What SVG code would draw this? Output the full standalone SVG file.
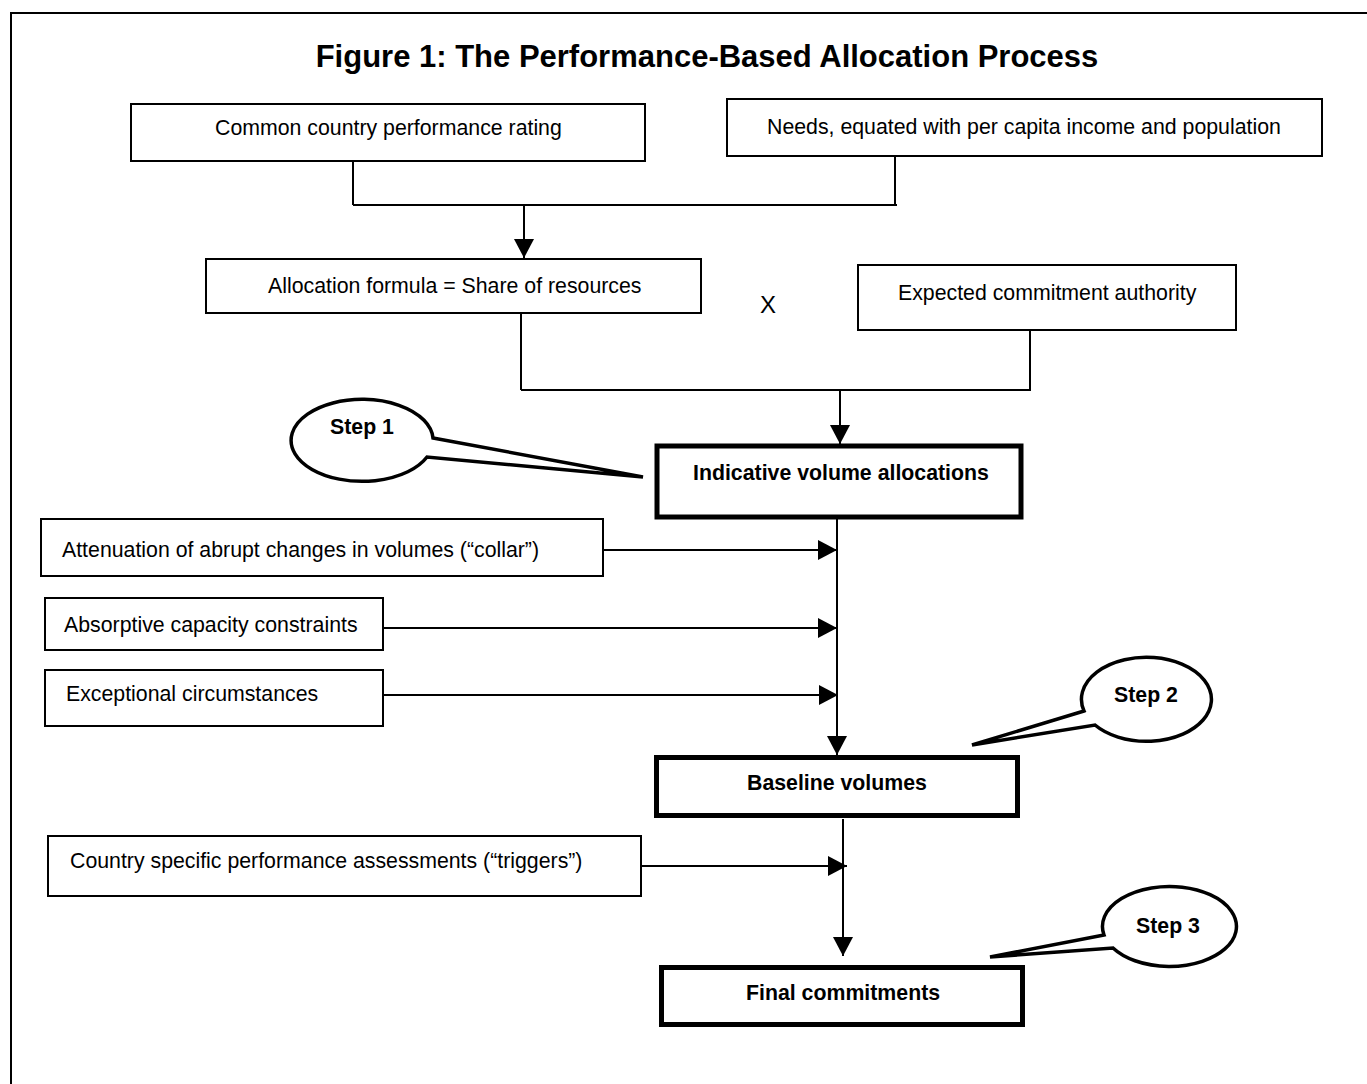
<svg xmlns="http://www.w3.org/2000/svg" width="1367" height="1084" viewBox="0 0 1367 1084">
<defs>
<style>
.box{fill:#fff;stroke:#000;stroke-width:2}
.thick{fill:#fff;stroke:#000;stroke-width:5}
.t{font-family:"Liberation Sans",Arial,sans-serif;font-size:21.3px;fill:#000}
.b{font-weight:bold}
.ln{fill:none;stroke:#000;stroke-width:2}
.call{fill:#fff;stroke:#000;stroke-width:3.5;stroke-linejoin:miter}
</style>
<marker id="ah" viewBox="0 0 19 20" refX="19" refY="10" markerWidth="19" markerHeight="20" markerUnits="userSpaceOnUse" orient="auto">
<path d="M0,0 L19,10 L0,20 Z" fill="#000"/>
</marker>
</defs>
<rect x="0" y="0" width="1367" height="1084" fill="#fff"/>
<rect id="frame" x="11" y="13" width="1380" height="1100" fill="none" stroke="#000" stroke-width="2"/>
<text id="title" class="t b" x="707" y="67" text-anchor="middle" style="font-size:31px">Figure 1: The Performance-Based Allocation Process</text>

<g id="connectors">
<path class="ln" d="M353,161 V205 M895,156 V205 M353,205 H897"/>
<path class="ln" d="M524,205 V258" marker-end="url(#ah)"/>
<path class="ln" d="M521,313 V390 M1030,330 V390 M521,390 H1031"/>
<path class="ln" d="M840,390 V444" marker-end="url(#ah)"/>
<path class="ln" d="M837,519 V755" marker-end="url(#ah)"/>
<path class="ln" d="M603,550 H837" marker-end="url(#ah)"/>
<path class="ln" d="M383,628 H837" marker-end="url(#ah)"/>
<path class="ln" d="M383,695 H838" marker-end="url(#ah)"/>
<path class="ln" d="M843,819 V956" marker-end="url(#ah)"/>
<path class="ln" d="M641,866 H847" marker-end="url(#ah)"/>
</g>

<g id="n-common"><rect class="box" x="131" y="104" width="514" height="57"/><text class="t" x="215" y="135">Common country performance rating</text></g>
<g id="n-needs"><rect class="box" x="727" y="99" width="595" height="57"/><text class="t" x="767" y="134">Needs, equated with per capita income and population</text></g>
<g id="n-alloc"><rect class="box" x="206" y="259" width="495" height="54"/><text class="t" x="268" y="293">Allocation formula = Share of resources</text></g>
<g id="n-x"><text class="t" x="768" y="313" text-anchor="middle" style="font-size:24px">X</text></g>
<g id="n-expected"><rect class="box" x="858" y="265" width="378" height="65"/><text class="t" x="898" y="300">Expected commitment authority</text></g>
<g id="n-indicative"><rect class="thick" x="657" y="446" width="364" height="71"/><text class="t b" x="693" y="480">Indicative volume allocations</text></g>
<g id="n-attenuation"><rect class="box" x="41" y="519" width="562" height="57"/><text class="t" x="62" y="557">Attenuation of abrupt changes in volumes (“collar”)</text></g>
<g id="n-absorptive"><rect class="box" x="45" y="598" width="338" height="52"/><text class="t" x="64" y="632">Absorptive capacity constraints</text></g>
<g id="n-exceptional"><rect class="box" x="45" y="670" width="338" height="56"/><text class="t" x="66" y="701">Exceptional circumstances</text></g>
<g id="n-baseline"><rect class="thick" x="656.5" y="757.5" width="361" height="58"/><text class="t b" x="747" y="790">Baseline volumes</text></g>
<g id="n-triggers"><rect class="box" x="48" y="836" width="593" height="60"/><text class="t" x="70" y="868">Country specific performance assessments (“triggers”)</text></g>
<g id="n-final"><rect class="thick" x="661.5" y="967.5" width="361" height="57"/><text class="t b" x="746" y="1000">Final commitments</text></g>

<g id="step1"><path class="call" d="M433,438 L643,477 L427,457 A71,41 0 1 1 433,438 Z"/><text class="t b" x="362" y="434" text-anchor="middle">Step 1</text></g>
<g id="step2"><path class="call" d="M1084,711 L972,745 L1095,725 A65,42 0 1 0 1084,711 Z"/><text class="t b" x="1146" y="702" text-anchor="middle">Step 2</text></g>
<g id="step3"><path class="call" d="M1104,935 L990,957 L1113,948 A67,40 0 1 0 1104,935 Z"/><text class="t b" x="1168" y="933" text-anchor="middle">Step 3</text></g>
</svg>
